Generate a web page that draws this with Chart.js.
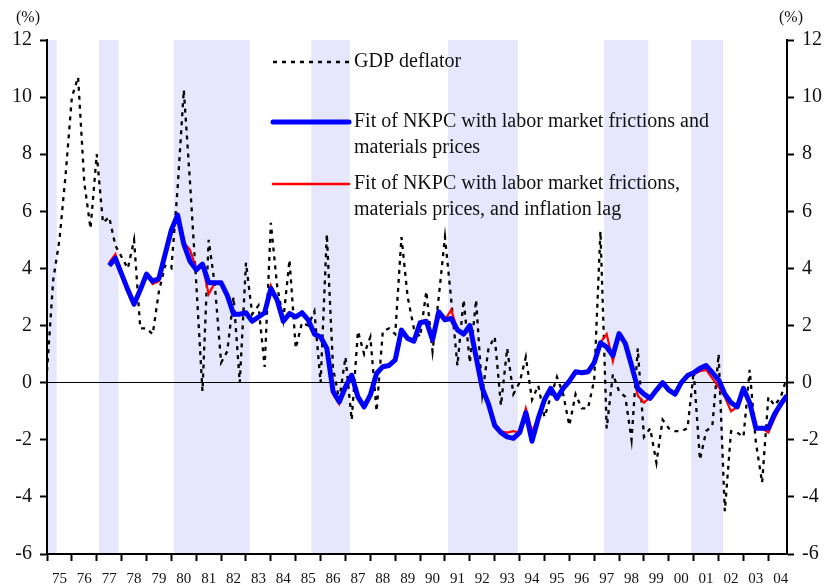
<!DOCTYPE html>
<html>
<head>
<meta charset="utf-8">
<script src="https://cdn.jsdelivr.net/npm/chart.js@4.4.1/dist/chart.umd.min.js"></script>
<style>
  html, body { margin: 0; padding: 0; background: #fff; }
</style>
</head>
<body>
<canvas id="chart-deflator" width="825" height="584"></canvas>
<script>
// quarterly, 1975Q1 .. 2004Q4 (index 0 .. 119)
const years = ["75","76","77","78","79","80","81","82","83","84","85","86","87","88","89",
  "90","91","92","93","94","95","96","97","98","99","00","01","02","03","04"];

const deflator = [
  0.4, 3.6, 5.0, 7.3, 10.0, 10.7, 7.0, 5.4, 8.0, 5.6,
  5.8, 4.8, 4.4, 4.0, 5.0, 1.9, 1.9, 1.7, 3.2, 4.1,
  4.0, 6.8, 10.25, 7.0, 3.5, -0.3, 5.0, 3.4, 0.7, 1.1,
  3.0, 0.0, 4.2, 2.4, 2.7, 0.55, 5.6, 3.4, 2.2, 4.3,
  1.2, 2.1, 2.0, 2.5, 0.0, 5.2, 0.5, -0.6, 0.9, -1.3,
  1.8, 1.0, 1.6, -1.0, 1.8, 1.9, 1.7, 5.1, 3.0, 1.9,
  1.6, 3.2, 1.1, 3.0, 5.1, 2.9, 0.6, 2.9, 0.7, 2.9,
  -0.4, 1.2, 1.6, -0.8, 1.2, -0.4, 0.0, 0.9, -0.6, -0.1,
  -1.2, -0.5, 0.2, -0.4, -1.5, -0.4, -0.9, -0.9, 0.1, 5.3,
  -1.6, 0.3, -0.3, -0.5, -2.0, 1.2, -1.9, -1.6, -2.8, -1.3,
  -1.6, -1.7, -1.7, -1.6, 0.4, -2.7, -1.7, -1.5, 1.0, -4.5,
  -1.7, -1.75, -1.9, 0.45, -2.1, -3.5, -0.5, -0.8, -0.5, 0.2
];

const fitNkpc = [
  null, null, null, null, null, null, null, null, null, null,
  4.1, 4.35, 3.8, 3.25, 2.75, 3.25, 3.8, 3.55, 3.65, 4.5,
  5.35, 5.87, 4.85, 4.25, 3.95, 4.15, 3.5, 3.5, 3.5, 3.05,
  2.4, 2.4, 2.45, 2.15, 2.3, 2.45, 3.3, 2.9, 2.15, 2.42,
  2.3, 2.45, 2.2, 1.7, 1.6, 1.2, -0.3, -0.67, -0.15, 0.26,
  -0.5, -0.85, -0.43, 0.32, 0.56, 0.6, 0.8, 1.84, 1.55, 1.45,
  2.1, 2.15, 1.5, 2.48, 2.2, 2.25, 1.85, 1.7, 2.0, 0.9,
  -0.2, -0.75, -1.5, -1.75, -1.9, -1.95, -1.75, -1.05, -2.05, -1.25,
  -0.6, -0.2, -0.55, -0.2, 0.05, 0.38, 0.35, 0.38, 0.7, 1.4,
  1.25, 0.95, 1.72, 1.37, 0.6, -0.2, -0.4, -0.55, -0.26, 0.0,
  -0.26, -0.4, 0.0, 0.25, 0.35, 0.5, 0.6, 0.35, 0.1, -0.4,
  -0.7, -0.85, -0.2, -0.7, -1.6, -1.6, -1.6, -1.1, -0.75, -0.45
];

const fitNkpcLag = [
  null, null, null, null, null, null, null, null, null, null,
  4.2, 4.5, 3.8, 3.25, 2.75, 3.25, 3.8, 3.45, 3.55, 4.5,
  5.35, 5.87, 4.9, 4.65, 4.0, 4.1, 3.1, 3.5, 3.5, 3.05,
  2.35, 2.4, 2.45, 2.2, 2.3, 2.45, 3.4, 2.9, 2.15, 2.42,
  2.3, 2.45, 2.2, 1.7, 1.6, 1.2, -0.4, -0.75, -0.15, 0.26,
  -0.5, -0.85, -0.43, 0.32, 0.56, 0.6, 0.8, 1.84, 1.55, 1.45,
  2.1, 2.15, 1.5, 2.48, 2.2, 2.55, 1.85, 1.7, 2.0, 0.9,
  -0.2, -0.75, -1.45, -1.7, -1.75, -1.7, -1.75, -0.9, -1.7, -1.25,
  -0.6, -0.2, -0.55, -0.2, 0.05, 0.38, 0.3, 0.35, 0.65, 1.4,
  1.7, 0.75, 1.72, 1.37, 0.6, -0.45, -0.7, -0.5, -0.3, 0.0,
  -0.26, -0.4, 0.0, 0.25, 0.3, 0.4, 0.45, 0.15, -0.15, -0.5,
  -1.0, -0.85, -0.2, -0.7, -1.6, -1.6, -1.75, -1.25, -0.8, -0.45
];

// shaded recession periods, in quarter index units
const recessionStart = [0, 8.36, 20.4, 42.5, 64.5, 89.6, 103.6];
const recessionEnd = [1.56, 11.5, 32.6, 48.7, 75.7, 96.7, 108.7];

const yTicks = [-6, -4, -2, 0, 2, 4, 6, 8, 10, 12];

const legendItems = [
  { lines: ["GDP deflator"], color: "#000", width: 2.5, dash: [4, 5] },
  { lines: ["Fit of NKPC with labor market frictions and", "materials prices"], color: "#0000ff", width: 5, dash: [] },
  { lines: ["Fit of NKPC with labor market frictions,", "materials prices, and inflation lag"], color: "#ff0000", width: 2.5, dash: [] },
];

const serif = '"Liberation Serif", "Times New Roman", serif';

const toPoints = (arr) => arr.map((v, i) => ({ x: i, y: v }));

const decor = {
  id: "decor",
  beforeDraw(chart) {
    const { ctx, chartArea: a, scales: { x } } = chart;
    ctx.save();
    ctx.fillStyle = "rgb(230,230,252)";
    recessionStart.forEach((s, k) => {
      const x0 = x.getPixelForValue(s);
      const x1 = x.getPixelForValue(recessionEnd[k]);
      ctx.fillRect(x0, a.top, x1 - x0, a.bottom - a.top);
    });
    ctx.restore();
  },
  afterDraw(chart) {
    const { ctx } = chart;
    ctx.save();
    // legend
    const ys = [62, 122, 184];
    ctx.font = "20px " + serif;
    ctx.textBaseline = "middle";
    ctx.textAlign = "left";
    legendItems.forEach((item, k) => {
      ctx.beginPath();
      ctx.strokeStyle = item.color;
      ctx.lineWidth = item.width;
      ctx.lineCap = item.dash.length ? "butt" : "round";
      ctx.setLineDash(item.dash);
      ctx.moveTo(273, ys[k]);
      ctx.lineTo(349, ys[k]);
      ctx.stroke();
      ctx.setLineDash([]);
      ctx.fillStyle = "#111";
      item.lines.forEach((t, j) => ctx.fillText(t, 354, ys[k] + j * 26));
    });
    // unit labels
    ctx.font = "16px " + serif;
    ctx.textAlign = "center";
    ctx.fillText("(%)", 28, 18);
    ctx.fillText("(%)", 791, 18);
    ctx.restore();
  }
};

new Chart(document.getElementById("chart-deflator"), {
  type: "line",
  data: {
    datasets: [
      {
        label: "Fit of NKPC with labor market frictions and materials prices",
        data: toPoints(fitNkpc),
        borderColor: "#0000ff",
        borderWidth: 5,
        borderJoinStyle: "round",
        pointRadius: 0,
      },
      {
        label: "Fit of NKPC with labor market frictions, materials prices, and inflation lag",
        data: toPoints(fitNkpcLag),
        borderColor: "#ff0000",
        borderWidth: 2.2,
        pointRadius: 0,
      },
      {
        label: "GDP deflator",
        data: toPoints(deflator),
        borderColor: "#000",
        borderWidth: 2.3,
        borderDash: [4, 5],
        pointRadius: 0,
      },
    ],
  },
  options: {
    responsive: false,
    animation: false,
    layout: { padding: { top: 40, left: 0, right: 0, bottom: 0 } },
    plugins: { legend: { display: false }, tooltip: { enabled: false } },
    scales: {
      x: {
        type: "linear",
        min: 0,
        max: 119,
        afterBuildTicks: (s) => { s.ticks = years.map((_, k) => ({ value: k * 4 })); },
        afterFit: (s) => { s.height = 30; },
        border: { color: "#000", width: 2 },
        grid: { drawOnChartArea: false, tickLength: 7, tickColor: "#000", tickWidth: 2 },
        ticks: {
          autoSkip: false,
          maxRotation: 0,
          labelOffset: 12.4,
          padding: 9,
          color: "#111",
          font: { family: serif, size: 15 },
          callback: (v) => years[v / 4],
        },
      },
      y: {
        position: "left",
        min: -6,
        max: 12,
        afterBuildTicks: (s) => { s.ticks = yTicks.map((v) => ({ value: v })); },
        afterFit: (s) => { s.width = 47; },
        border: { color: "#000", width: 2 },
        grid: {
          drawOnChartArea: true,
          color: (c) => (c.tick && c.tick.value === 0 ? "#000" : "rgba(0,0,0,0)"),
          lineWidth: 1,
          tickLength: 7,
          tickColor: "#000",
          tickWidth: 2,
        },
        ticks: { padding: 8, color: "#111", font: { family: serif, size: 20 } },
      },
      y2: {
        position: "right",
        min: -6,
        max: 12,
        afterBuildTicks: (s) => { s.ticks = yTicks.map((v) => ({ value: v })); },
        afterFit: (s) => { s.width = 38; },
        border: { color: "#000", width: 2 },
        grid: { drawOnChartArea: false, tickLength: 7, tickColor: "#000", tickWidth: 2 },
        ticks: { padding: 8, color: "#111", font: { family: serif, size: 20 } },
      },
    },
  },
  plugins: [decor],
});
</script>
</body>
</html>
